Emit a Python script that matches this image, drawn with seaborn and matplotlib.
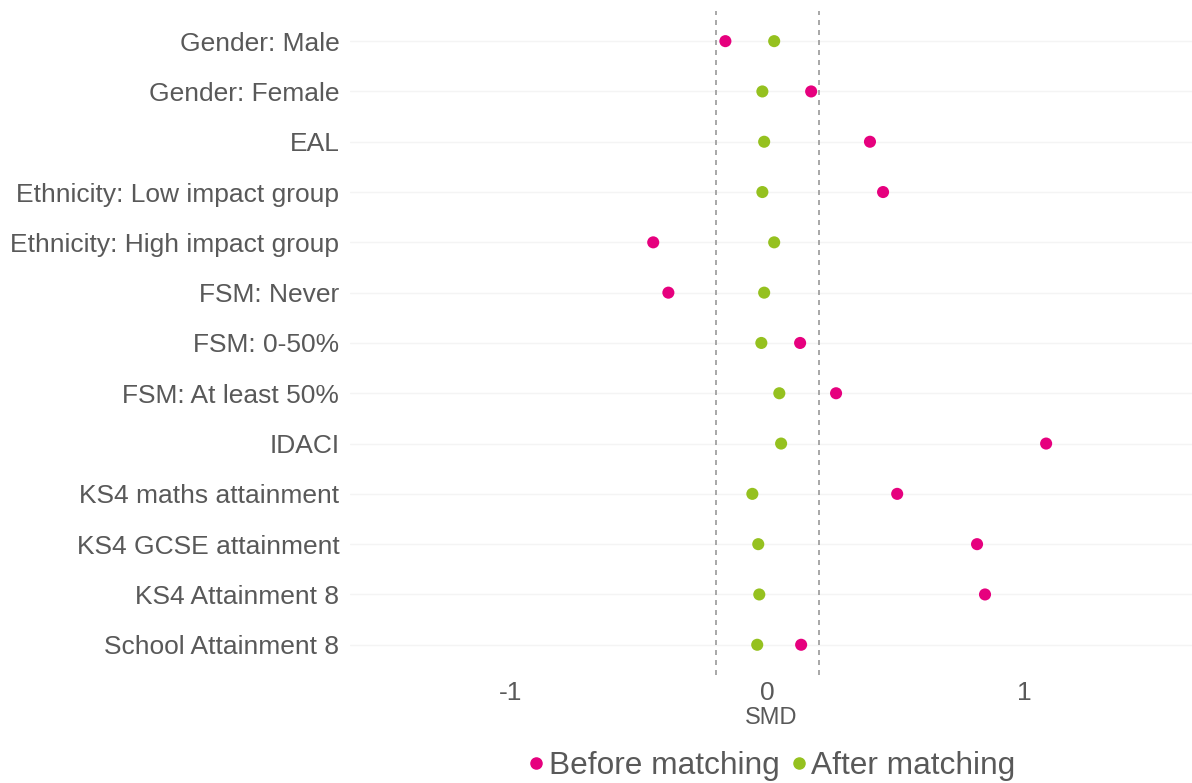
import pandas as pd
import matplotlib.pyplot as plt
import seaborn as sns
from matplotlib.lines import Line2D

# Covariates and standardised mean differences
covariates = ["Gender: Male", "Gender: Female", "EAL", "Ethnicity: Low impact group",
              "Ethnicity: High impact group", "FSM: Never", "FSM: 0-50%",
              "FSM: At least 50%", "IDACI", "KS4 maths attainment",
              "KS4 GCSE attainment", "KS4 Attainment 8", "School Attainment 8"]
smd_before = [-0.163, 0.171, 0.400, 0.451, -0.444, -0.385, 0.128,
              0.268, 1.086, 0.506, 0.817, 0.848, 0.132]
smd_after = [0.027, -0.019, -0.012, -0.019, 0.027, -0.012, -0.023,
             0.047, 0.054, -0.058, -0.035, -0.031, -0.039]
groups = ["Before matching", "After matching"]
palette = {"Before matching": "#E6007E", "After matching": "#95C11F"}

df = pd.DataFrame({
    "Covariate": covariates * 2,
    "SMD": smd_before + smd_after,
    "Group": [groups[0]] * len(covariates) + [groups[1]] * len(covariates),
})

sns.set_style("white")
plt.rcParams["font.family"] = ["Liberation Sans", "DejaVu Sans"]
text_col = "#595959"

fig = plt.figure(figsize=(11.92, 7.83), dpi=100)
ax = fig.add_axes([0.294, 0.138, 0.706, 0.848])

# faint horizontal guide lines
for i in range(len(covariates)):
    ax.axhline(i, color="#F4F4F4", lw=1, zorder=0)

ax.axvline(-0.2, color="#999999", ls=(0, (3, 3)), lw=1.2, zorder=1)
ax.axvline(0.2, color="#999999", ls=(0, (3, 3)), lw=1.2, zorder=1)

sns.stripplot(data=df, x="SMD", y="Covariate", hue="Group", palette=palette,
              order=covariates, hue_order=groups, jitter=False, dodge=False,
              size=8.7, linewidth=0, ax=ax, legend=False, zorder=3)

ax.set_xlim(-1.623, 1.654)
ax.set_ylim(len(covariates) - 0.4, -0.6)
ax.set_xticks([-1, 0, 1])
ax.set_xticklabels(["-1", "0", "1"])
ax.tick_params(axis="x", labelsize=19, colors=text_col, length=0, pad=4)
ax.tick_params(axis="y", labelsize=19, colors=text_col, length=0, pad=8)
ax.set_xlabel("SMD", fontsize=17, color=text_col, labelpad=2)
ax.set_ylabel("")
for s in ax.spines.values():
    s.set_visible(False)

handles = [Line2D([], [], marker="o", ls="", color=palette[g], markersize=8) for g in groups]
fig.legend(handles, groups, loc="lower center", bbox_to_anchor=(0.643, -0.034), ncol=2,
           frameon=False, fontsize=22.8, handletextpad=-0.2, columnspacing=0.0,
           handlelength=1.2, labelcolor=text_col)

fig.savefig("out.png", dpi=100)
